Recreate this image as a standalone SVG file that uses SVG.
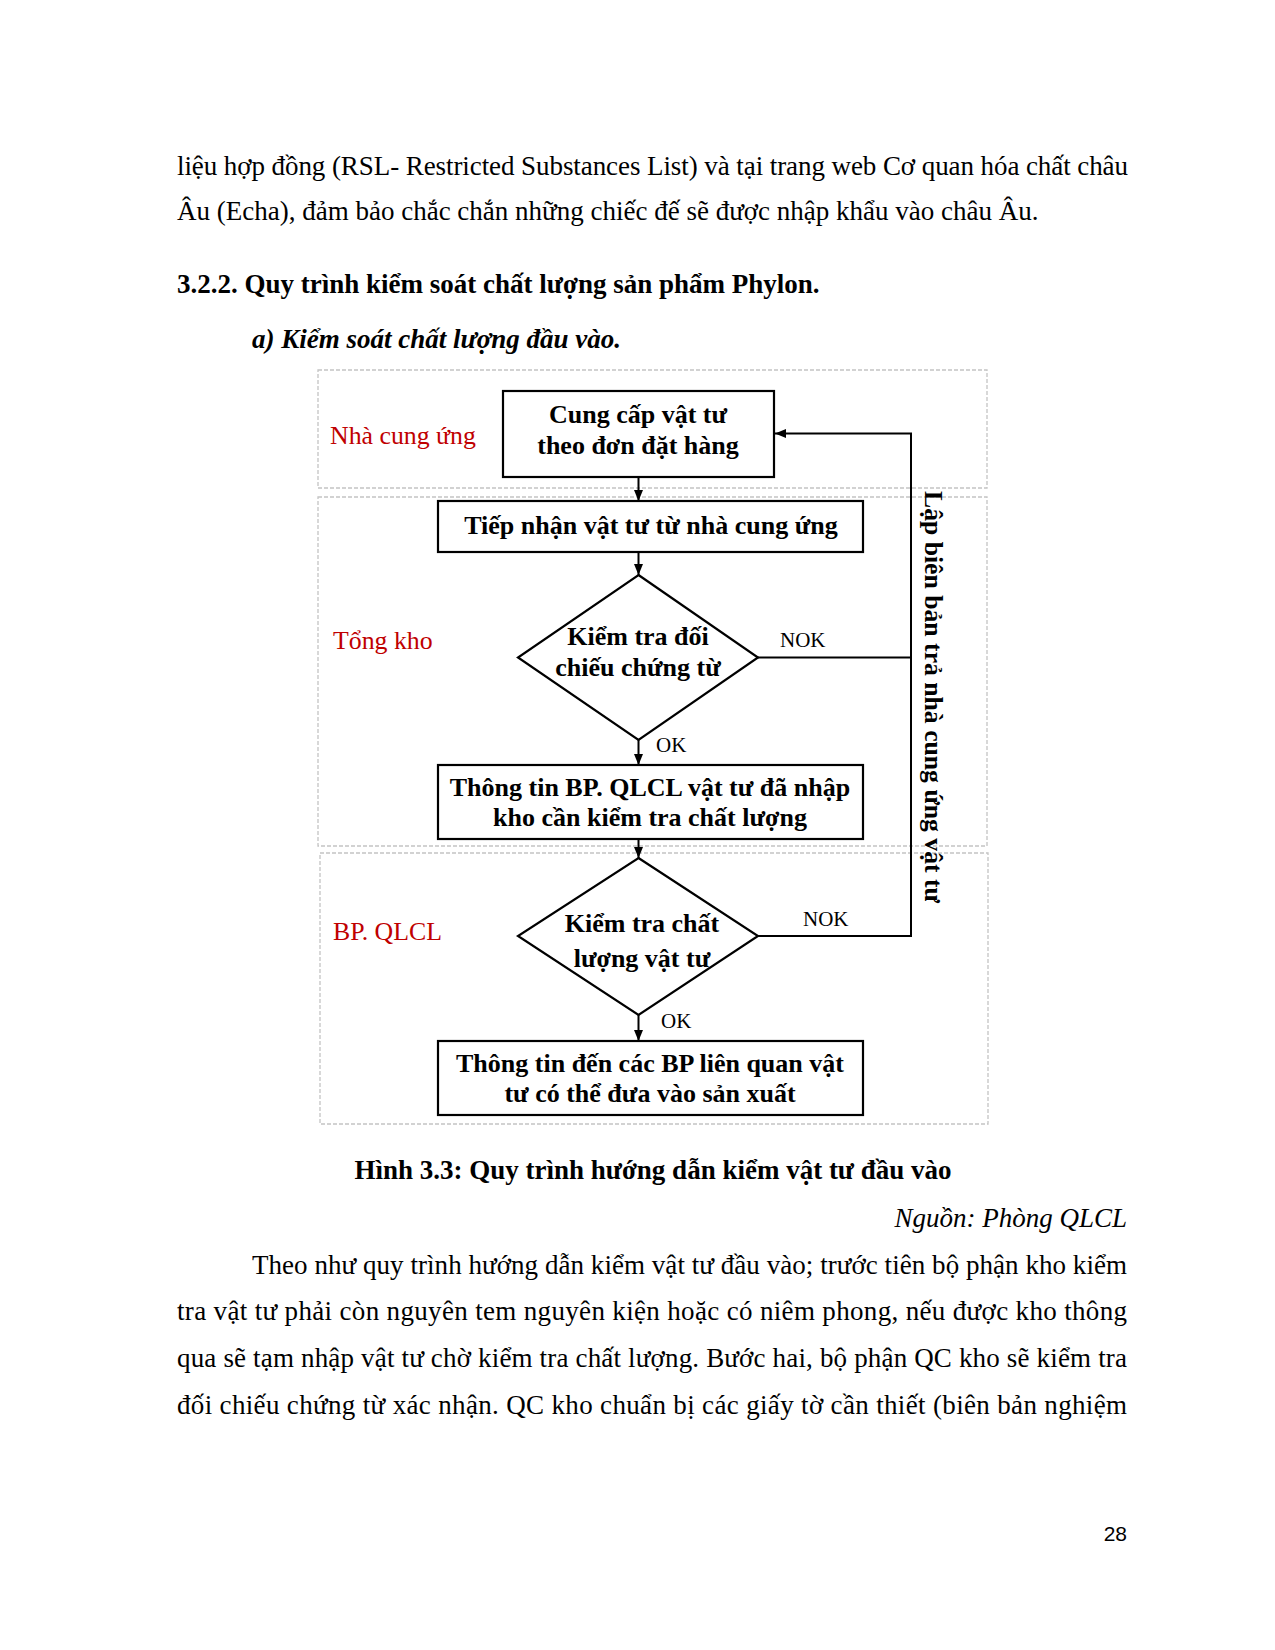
<svg xmlns="http://www.w3.org/2000/svg" width="1275" height="1650" viewBox="0 0 1275 1650">
<defs>
<marker id="arr" markerUnits="userSpaceOnUse" markerWidth="12" markerHeight="12" viewBox="0 0 12 12" refX="11" refY="6" orient="auto">
<path d="M0,1.5 L11,6 L0,10.5 Z" fill="#000"/>
</marker>
<style>
.body{font-family:"Liberation Serif","Times New Roman",serif;font-size:27px;fill:#000}
.b{font-weight:bold}
.i{font-style:italic}
.lane{fill:none;stroke:#c4c4c4;stroke-width:1.3;stroke-dasharray:4 2}
.lbl{font-family:"Liberation Serif","Times New Roman",serif;font-size:25.8px;fill:#c00000}
.box{fill:#fff;stroke:#000;stroke-width:2.2}
.nt{font-family:"Liberation Serif","Times New Roman",serif;font-size:26px;font-weight:bold;fill:#000;text-anchor:middle}
.cl{font-family:"Liberation Serif","Times New Roman",serif;font-size:21px;fill:#000}
.con{fill:none;stroke:#000;stroke-width:2}
</style>
</defs>
<rect width="1275" height="1650" fill="#fff"/>

<g id="page-text">
<text class="body" x="177" y="175" textLength="951" lengthAdjust="spacing">liệu hợp đồng (RSL- Restricted Substances List) và tại trang web Cơ quan hóa chất châu</text>
<text class="body" x="177" y="220">Âu (Echa), đảm bảo chắc chắn những chiếc đế sẽ được nhập khẩu vào châu Âu.</text>
<text class="body b" x="177" y="293">3.2.2. Quy trình kiểm soát chất lượng sản phẩm Phylon.</text>
<text class="body b i" x="252" y="348">a) Kiểm soát chất lượng đầu vào.</text>
<text class="body b" x="653" y="1179" text-anchor="middle">Hình 3.3: Quy trình hướng dẫn kiểm vật tư đầu vào</text>
<text class="body i" x="1127" y="1227" text-anchor="end">Nguồn: Phòng QLCL</text>
<text class="body" x="252" y="1274" textLength="875" lengthAdjust="spacing">Theo như quy trình hướng dẫn kiểm vật tư đầu vào; trước tiên bộ phận kho kiểm</text>
<text class="body" x="177" y="1320" textLength="950" lengthAdjust="spacing">tra vật tư phải còn nguyên tem nguyên kiện hoặc có niêm phong, nếu được kho thông</text>
<text class="body" x="177" y="1367" textLength="950" lengthAdjust="spacing">qua sẽ tạm nhập vật tư chờ kiểm tra chất lượng. Bước hai, bộ phận QC kho sẽ kiểm tra</text>
<text class="body" x="177" y="1414" textLength="950" lengthAdjust="spacing">đối chiếu chứng từ xác nhận. QC kho chuẩn bị các giấy tờ cần thiết (biên bản nghiệm</text>
<text class="body" x="1127" y="1541" text-anchor="end" style="font-family:'Liberation Sans',Arial,sans-serif;font-size:21px">28</text>
</g>

<g id="lanes">
<rect id="lane-ncu" class="lane" x="318" y="370" width="669" height="118"/>
<rect id="lane-tk" class="lane" x="318" y="497" width="669" height="349"/>
<rect id="lane-qlcl" class="lane" x="320" y="853" width="668" height="271"/>
<text class="lbl" x="330" y="444">Nhà cung ứng</text>
<text class="lbl" x="333" y="649">Tổng kho</text>
<text class="lbl" x="333" y="940">BP. QLCL</text>
</g>

<g id="connectors">
<line class="con" x1="638.5" y1="477" x2="638.5" y2="501" marker-end="url(#arr)"/>
<line class="con" x1="638.5" y1="552" x2="638.5" y2="575" marker-end="url(#arr)"/>
<line class="con" x1="638.5" y1="740" x2="638.5" y2="765" marker-end="url(#arr)"/>
<line class="con" x1="638.5" y1="839" x2="638.5" y2="858" marker-end="url(#arr)"/>
<line class="con" x1="638.5" y1="1015" x2="638.5" y2="1041" marker-end="url(#arr)"/>
<line class="con" x1="758" y1="657.5" x2="911" y2="657.5"/>
<polyline class="con" points="758,936 911,936 911,433.5 775,433.5" marker-end="url(#arr)"/>
<text class="cl" x="780" y="647">NOK</text>
<text class="cl" x="656" y="752">OK</text>
<text class="cl" x="803" y="926">NOK</text>
<text class="cl" x="661" y="1028">OK</text>
<text class="nt" transform="translate(925,491) rotate(90)" x="0" y="0" style="text-anchor:start" textLength="412" lengthAdjust="spacingAndGlyphs">Lập biên bản trả nhà cung ứng vật tư</text>
</g>

<g id="n-cungcap">
<rect class="box" x="503" y="391" width="271" height="86"/>
<text class="nt" x="638" y="423">Cung cấp vật tư</text>
<text class="nt" x="638" y="454">theo đơn đặt hàng</text>
</g>

<g id="n-tiepnhan">
<rect class="box" x="438" y="501" width="425" height="51"/>
<text class="nt" x="651" y="534">Tiếp nhận vật tư từ nhà cung ứng</text>
</g>

<g id="n-kiemtra-chungtu">
<polygon class="box" points="638.5,575 758,657.5 638.5,740 518,657.5"/>
<text class="nt" x="638" y="645">Kiểm tra đối</text>
<text class="nt" x="638" y="676">chiếu chứng từ</text>
</g>

<g id="n-thongtin-qlcl">
<rect class="box" x="438" y="765" width="425" height="74"/>
<text class="nt" x="650" y="796">Thông tin BP. QLCL vật tư đã nhập</text>
<text class="nt" x="650" y="826">kho cần kiểm tra chất lượng</text>
</g>

<g id="n-kiemtra-chatluong">
<polygon class="box" points="638.5,858 758,936 638.5,1015 518,936"/>
<text class="nt" x="642" y="932">Kiểm tra chất</text>
<text class="nt" x="642" y="967">lượng vật tư</text>
</g>

<g id="n-thongtin-bp">
<rect class="box" x="438" y="1041" width="425" height="74"/>
<text class="nt" x="650" y="1072">Thông tin đến các BP liên quan vật</text>
<text class="nt" x="650" y="1102">tư có thể đưa vào sản xuất</text>
</g>
</svg>
